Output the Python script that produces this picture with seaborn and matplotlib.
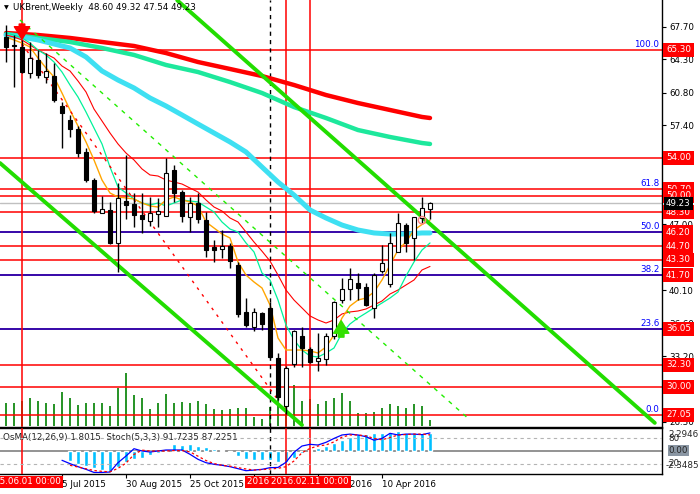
import numpy as np
import pandas as pd
import matplotlib
matplotlib.use("Agg")
import matplotlib.pyplot as plt
import matplotlib.transforms as mtransforms
import seaborn as sns

# ---- weekly UKBrent bars ----
weeks = pd.date_range("2015-05-17", periods=54, freq="7D")
opens = [66.65, 65.80, 65.60, 62.85, 64.20, 62.45, 62.55, 59.40, 58.00, 57.00,
         54.60, 51.65, 48.20, 48.50, 45.05, 49.45, 49.15, 48.00, 47.40, 48.10,
         47.90, 52.70, 50.40, 47.80, 49.25, 47.50, 44.65, 44.40, 44.75, 42.75,
         37.80, 36.25, 37.70, 38.25, 33.00, 28.00, 32.40, 35.30, 33.95, 32.70,
         32.90, 35.30, 39.10, 40.25, 40.85, 40.45, 38.25, 42.10, 40.75, 44.10,
         46.95, 45.60, 47.70, 48.60]
highs = [67.90, 66.90, 66.30, 66.10, 65.30, 65.00, 63.90, 59.85, 58.50, 57.30,
         55.00, 51.85, 50.00, 49.40, 51.30, 54.30, 50.30, 50.30, 49.90, 49.80,
         53.95, 53.20, 50.60, 49.90, 50.30, 48.30, 45.40, 46.40, 45.05, 43.05,
         39.30, 38.25, 37.80, 38.90, 33.50, 32.20, 35.95, 36.25, 34.15, 35.60,
         35.60, 39.00, 41.40, 42.45, 41.90, 40.85, 41.90, 44.85, 46.10, 48.20,
         47.15, 47.80, 49.90, 49.32]
lows = [64.00, 61.40, 62.90, 62.40, 62.35, 61.80, 59.85, 55.00, 56.20, 54.10,
        51.45, 48.20, 48.20, 45.00, 42.00, 47.60, 46.70, 46.10, 46.85, 46.70,
        47.90, 49.35, 47.25, 46.20, 47.15, 43.60, 43.10, 43.50, 42.40, 37.30,
        36.25, 35.85, 35.95, 33.00, 28.60, 27.10, 32.05, 32.05, 32.50, 31.65,
        32.30, 35.00, 38.75, 39.10, 39.10, 38.45, 37.20, 41.90, 40.45, 44.10,
        44.10, 43.30, 47.15, 47.54]
closes = [65.60, 65.75, 63.00, 64.50, 62.70, 63.10, 60.05, 58.65, 57.00, 54.45,
          51.65, 48.40, 48.60, 45.05, 49.75, 49.00, 48.00, 47.60, 48.20, 48.40,
          52.40, 50.30, 47.90, 49.25, 47.60, 44.30, 44.30, 44.75, 43.20, 37.60,
          36.50, 37.80, 36.60, 33.10, 28.90, 32.00, 35.80, 34.05, 32.60, 33.00,
          35.30, 38.90, 40.25, 41.30, 40.35, 38.55, 41.70, 42.95, 45.05, 47.15,
          45.05, 47.80, 48.70, 49.23]
volumes = [23, 23, 25, 28, 25, 23, 22, 34, 28, 21,
           23, 23, 23, 20, 38, 53, 31, 28, 17, 23,
           32, 23, 24, 23, 25, 22, 17, 16, 17, 18,
           18, 9, 7, 19, 28, 30, 41, 25, 27, 22,
           25, 28, 33, 25, 13, 13, 14, 18, 22, 20,
           18, 22, 20, 6]

# short moving averages, one value per bar
ma_fast = [66.65, 66.34, 66.02, 65.60, 64.45, 63.40, 62.46, 60.78, 59.00, 57.32,
           55.65, 53.76, 51.66, 50.30, 49.88, 49.78, 49.67, 49.25, 48.94, 48.83,
           49.57, 49.88, 49.57, 49.36, 48.94, 47.26, 46.63, 46.00, 45.58, 43.07,
           41.70, 40.97, 40.34, 38.56, 35.10, 33.84, 33.84, 33.84, 33.74, 33.53,
           34.16, 35.41, 37.20, 38.45, 39.08, 39.29, 39.92, 41.18, 42.75, 44.32,
           45.16, 46.42, 47.00, 47.45]
ma_mid = [67.07, 66.86, 66.55, 66.02, 65.29, 64.77, 64.03, 62.98, 61.62, 60.36,
          58.79, 57.11, 55.44, 53.02, 50.93, 50.30, 49.67, 49.25, 49.04, 49.25,
          48.94, 49.25, 49.57, 49.46, 49.36, 48.83, 48.31, 47.26, 46.52, 46.21,
          45.06, 44.12, 41.91, 41.18, 39.08, 36.46, 34.90, 33.84, 33.21, 33.11,
          33.53, 34.05, 35.62, 36.57, 37.20, 37.72, 38.25, 38.77, 39.29, 39.92,
          41.60, 43.07, 44.32, 45.06]
ma_slow = [66.86, 66.65, 66.34, 65.81, 65.29, 64.87, 64.45, 63.61, 63.09, 62.04,
           60.89, 59.10, 57.85, 56.59, 55.44, 54.49, 53.76, 52.82, 52.19, 52.08,
           51.66, 51.45, 51.24, 50.82, 50.40, 49.57, 48.83, 48.41, 47.68, 47.26,
           46.21, 45.16, 44.20, 43.17, 41.70, 40.13, 39.08, 38.25, 37.41, 36.99,
           36.67, 36.99, 37.62, 37.83, 37.93, 38.14, 38.56, 38.98, 39.71, 40.13,
           40.66, 41.18, 42.23, 42.60]

# long moving averages, sampled bars
long_idx = [0, 4, 8, 12, 16, 20, 24, 28, 32, 36, 40, 44, 48, 52, 53]
ma_red_long = [67.07, 66.86, 66.55, 66.13, 65.71, 64.97, 64.03, 63.30, 62.56,
               61.62, 60.57, 59.73, 59.00, 58.27, 58.16]
ma_green_long = [66.97, 66.55, 66.13, 65.50, 64.77, 63.72, 62.98, 61.93, 60.78,
                 59.31, 58.16, 56.90, 56.17, 55.54, 55.44]
cyan_idx = list(range(0, 54, 2)) + [53]
ma_cyan = [66.86, 66.65, 66.34, 65.92, 65.50, 64.56, 63.09, 62.14, 61.31, 60.26,
           59.42, 58.48, 57.53, 56.59, 55.65, 54.60, 53.02, 51.45, 50.09, 48.52,
           47.68, 46.94, 46.42, 46.11, 46.00, 46.00, 46.11, 46.11]

# OsMA(12,26,9) from bar 8, Stoch(5,3,3) main from bar 7, signal from bar 8
osma = [-1.07, -1.33, -1.57, -1.77, -1.93, -2.10, -1.60, -1.17, -0.83, -0.77,
        -0.43, -0.23, 0.02, 0.73, 0.60, 0.73, 0.43, 0.33, 0.17, 0.03,
        -0.10, -0.57, -0.80, -0.90, -0.97, -0.90, -1.13, -1.17, -0.73, -0.23,
        0.10, 0.27, 0.50, 0.77, 1.10, 1.43, 1.67, 1.70, 1.83, 1.77,
        1.93, 2.03, 1.83, 1.83, 1.77, 1.80]
stoch_main = [28.5, 20.8, 13.8, 7.7, 0.5, 0.5, 1.5, 23.0, 38.4, 55.3,
              50.0, 47.7, 50.0, 52.3, 52.3, 52.3, 42.4, 30.8, 23.0, 19.3,
              17.0, 13.8, 9.2, 4.5, 6.0, 7.7, 11.5, 12.0, 24.0, 47.0,
              61.5, 65.4, 63.8, 70.0, 79.0, 87.0, 89.0, 87.0, 83.0, 75.0,
              79.0, 90.8, 87.0, 89.0, 89.0, 87.7, 91.7]
stoch_signal = [17, 13, 9, 5, 3, 2, 10, 22, 42, 52,
                50, 50, 50, 51, 51, 48, 38, 28, 21, 17,
                15, 11.5, 8.5, 6, 7, 8.5, 10, 13.8, 27, 46,
                56, 61.5, 64, 71, 82, 87, 87, 85, 79, 76,
                81, 87, 88, 89, 89, 87.2]

# levels and drawn objects
red_levels = [65.30, 54.00, 50.70, 50.00, 48.30, 46.20, 44.70, 43.30, 41.70,
              36.05, 32.30, 30.00, 27.05]
blue_levels = [46.20, 41.70, 36.05]
fib_labels = {"100.0": 65.30, "61.8": 50.70, "50.0": 46.20, "38.2": 41.70,
              "23.6": 36.05, "0.0": 27.05}
last_price = 49.23
price_ticks = [67.70, 64.30, 60.80, 57.40, 54.00, 50.50, 47.00, 43.60, 40.10,
               36.60, 33.20, 29.70, 26.30]
channel_upper = ([21.4, 81.1], [70.5, 26.2])
channel_lower = ([-0.75, 37.0], [53.44, 25.98])
channel_mid = ([1.75, 58.0], [68.43, 26.5])
trend_red = ([2.0, 34.0], [65.92, 28.6])
red_vlines = [2, 35, 38]
dash_vline = 33
date_ticks = [7, 15, 23, 31, 39, 47]
date_labels = ["5 Jul 2015", "30 Aug 2015", "25 Oct 2015", "20 Dec 2015",
               "14 Feb 2016", "10 Apr 2016"]
vline_labels = [(2, "2015.06.01 00:00"), (35, "2016.01.20 00:00"),
                (38, "2016.02.11 00:00")]

sns.set_style("white")
plt.rcParams['font.family'] = ['DejaVu Sans']
FS = 6.3

W, H = 700, 494
def px_box(x0, y0, x1, y1):
    return [x0 / W, 1 - y1 / H, (x1 - x0) / W, (y1 - y0) / H]

fig = plt.figure(figsize=(7, 4.94), dpi=100)
ax_vol = fig.add_axes(px_box(0, 0, 662, 427))
ax = fig.add_axes(px_box(0, 0, 662, 427))
ax_os = fig.add_axes(px_box(0, 428, 662, 474))
ax_st = fig.add_axes(px_box(0, 428, 662, 474))
XL = (-0.75, 82)
xs = np.arange(len(opens))

# volumes
ax_vol.vlines(xs, 0, volumes, color='#008000', lw=1.2)
ax_vol.set_xlim(XL)
ax_vol.set_ylim(-1, 426)
ax_vol.axis('off')
ax_vol.set_zorder(1)

ax.set_zorder(2)
ax.patch.set_visible(False)
ax.set_xlim(XL)
ax.set_ylim(25.77, 70.53)

for lv in red_levels:
    ax.axhline(lv, color='red', lw=1.1, zorder=2)
for lv in blue_levels:
    ax.axhline(lv, color='#0000cc', lw=1.1, zorder=2)
ax.axhline(last_price, color='#c0c0c0', lw=1, zorder=2)

for v in red_vlines:
    ax.axvline(v, color='red', lw=1.1, zorder=2)
    ax_os.axvline(v, color='red', lw=1.1, zorder=3)
ax.axvline(dash_vline, color='black', lw=1, ls=(0, (3, 3)), zorder=2)
ax_os.axvline(dash_vline, color='black', lw=1, ls=(0, (3, 3)), zorder=3)

# moving averages
sns.lineplot(x=long_idx, y=ma_red_long, ax=ax, color='#ff0000', linewidth=3.2, zorder=3)
sns.lineplot(x=long_idx, y=ma_green_long, ax=ax, color='#1de89c', linewidth=3.2, zorder=3)
sns.lineplot(x=cyan_idx, y=ma_cyan, ax=ax, color='#3ee0f2', linewidth=3.6, zorder=3)
sns.lineplot(x=xs, y=ma_slow, ax=ax, color='#ff0000', linewidth=0.8, zorder=3)
sns.lineplot(x=xs, y=ma_mid, ax=ax, color='#00f29a', linewidth=0.9, zorder=3)
sns.lineplot(x=xs, y=ma_fast, ax=ax, color='#ffa500', linewidth=1.0, zorder=3)

# trend / channel lines
ax.plot(*channel_upper, color='#22dd00', lw=2.8, zorder=3)
ax.plot(*channel_lower, color='#22dd00', lw=2.8, zorder=3)
ax.plot(*channel_mid, color='#22ee00', lw=1, ls=(0, (3, 4)), zorder=3)
ax.plot(*trend_red, color='red', lw=1, ls=(0, (2, 4)), zorder=3)

# candles
bull = np.array(closes) >= np.array(opens)
body_lo = np.minimum(opens, closes)
body_h = np.maximum(np.abs(np.array(closes) - np.array(opens)), 0.08)
ax.vlines(xs, lows, highs, color='black', lw=1, zorder=5)
ax.bar(xs, body_h, bottom=body_lo, width=0.62,
       color=np.where(bull, 'white', 'black'), edgecolor='black', lw=0.8, zorder=6)

# signal marks
ax.annotate('', xy=(2, 66.13), xytext=(2, 68.3),
            arrowprops=dict(arrowstyle='simple,head_length=0.9,head_width=1.1,tail_width=0.4',
                            fc='red', ec='red', mutation_scale=10), zorder=7)
ax.annotate('', xy=(41.9, 37.2), xytext=(41.9, 34.9),
            arrowprops=dict(arrowstyle='simple,head_length=0.9,head_width=1.1,tail_width=0.4',
                            fc='#33e000', ec='#33e000', mutation_scale=10), zorder=7)
ax.scatter([52], [47.45], s=28, facecolors='none', edgecolors='#ff8080', lw=1, zorder=7)

# axis styling
ax.set_xticks([])
ax.set_yticks(price_ticks)
ax.set_yticklabels([f"{t:.2f}" for t in price_ticks])
ax.tick_params(axis='y', left=False, labelleft=False, right=True, labelright=True,
               length=3, width=0.8, pad=2, labelsize=FS, colors='black')
for side in ['top', 'left']:
    ax.spines[side].set_visible(False)
for side in ['right', 'bottom']:
    ax.spines[side].set_color('black')
    ax.spines[side].set_linewidth(1)

tr = mtransforms.blended_transform_factory(ax.transAxes, ax.transData)
for name, lv in fib_labels.items():
    ax.text(0.996, lv + 0.12, name, transform=tr, ha='right', va='bottom',
            color='#0000ff', fontsize=FS, zorder=8)
for lv in red_levels:
    ax.text(1.006, lv, f"{lv:.2f}", transform=tr, ha='left', va='center',
            color='white', fontsize=FS, clip_on=False, zorder=9,
            bbox=dict(boxstyle='square,pad=0.3', fc='red', ec='none'))
ax.text(1.006, last_price, f"{last_price:.2f}", transform=tr, ha='left', va='center',
        color='white', fontsize=FS, clip_on=False, zorder=10,
        bbox=dict(boxstyle='square,pad=0.25', fc='black', ec='none'))

ax.text(4 / 662, 1 - 8 / 427, "\u25bc", transform=ax.transAxes, fontsize=4.5,
        va='center', ha='left', color='black')
ax.text(13 / 662, 1 - 8 / 427, "UKBrent,Weekly  48.60 49.32 47.54 49.23",
        transform=ax.transAxes, fontsize=FS, va='center', ha='left', color='black')

# indicator window
ax_os.bar(np.arange(8, 8 + len(osma)), osma, width=0.6, color='#00bfff', zorder=2)
ax_os.axhline(0, color='#808080', lw=1.2, zorder=1)
ax_os.set_xlim(XL)
ax_os.set_ylim(-2.3485, 2.2946)
ax_os.set_yticks([])
ax_os.set_xticks(date_ticks)
ax_os.set_xticklabels(date_labels)
for lab in ax_os.get_xticklabels():
    lab.set_ha('left')
ax_os.tick_params(axis='x', bottom=True, length=3, width=0.8, pad=1.5,
                  labelsize=FS, colors='black')
ax_os.spines['left'].set_visible(False)
for side in ['top', 'right', 'bottom']:
    ax_os.spines[side].set_color('black')
    ax_os.spines[side].set_linewidth(1)

ax_st.patch.set_visible(False)
ax_st.set_xlim(XL)
ax_st.set_ylim(-3.1, 103.1)
ax_st.axhline(80, color='#b4b4b4', lw=0.8, ls=(0, (3, 3)))
ax_st.axhline(20, color='#b4b4b4', lw=0.8, ls=(0, (3, 3)))
sns.lineplot(x=np.arange(7, 7 + len(stoch_main)), y=stoch_main, ax=ax_st,
             color='#0000ff', linewidth=0.9)
sns.lineplot(x=np.arange(8, 8 + len(stoch_signal)), y=stoch_signal, ax=ax_st,
             color='red', linewidth=0.9, linestyle=(0, (2, 2)))
ax_st.set_xticks([])
ax_st.set_yticks([])
for s in ax_st.spines.values():
    s.set_visible(False)
ax_st.set_xlabel('')
ax_st.set_ylabel('')

tr_os = mtransforms.blended_transform_factory(ax_os.transAxes, ax_os.transData)
tr_st = mtransforms.blended_transform_factory(ax_st.transAxes, ax_st.transData)
ax_os.text(3 / 662, 0.80, "OsMA(12,26,9) 1.8015  Stoch(5,3,3) 91.7235 87.2251",
           transform=ax_os.transAxes, fontsize=FS, va='center', ha='left', color='#222222')
ax_os.text(1.01, 1.6, "2.2946", transform=tr_os, fontsize=FS, va='center', ha='left',
           clip_on=False)
ax_st.text(1.01, 80, "80", transform=tr_st, fontsize=FS, va='center', ha='left',
           clip_on=False)
ax_os.text(1.01, 0, "0.00", transform=tr_os, fontsize=FS, va='center', ha='left',
           clip_on=False, bbox=dict(boxstyle='square,pad=0.12', fc='#8a96a3', ec='none'))
ax_st.text(1.01, 20, "20", transform=tr_st, fontsize=FS, va='center', ha='left',
           clip_on=False)
ax_os.text(1.005, -1.5, "-2.3485", transform=tr_os, fontsize=FS, va='center', ha='left',
           clip_on=False)

trx = mtransforms.blended_transform_factory(ax_os.transData, ax_os.transAxes)
for i, lab in vline_labels:
    ax_os.text(i, -0.17, lab, transform=trx, ha='center', va='center', color='white',
               fontsize=FS, clip_on=False, zorder=10,
               bbox=dict(boxstyle='square,pad=0.2', fc='red', ec='none'))

fig.savefig("out.png", dpi=100)
